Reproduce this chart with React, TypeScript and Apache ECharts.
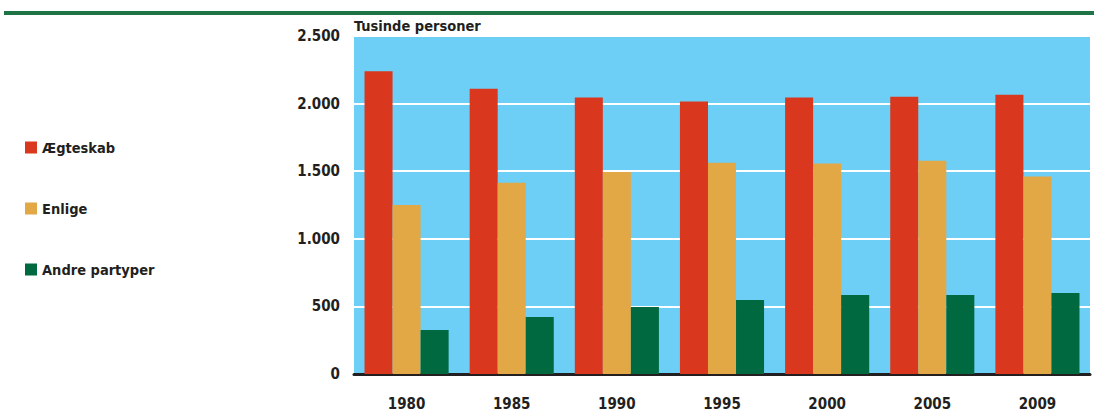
import React, { useEffect, useRef } from "react";
import * as echarts from "echarts";

const categories = ["1980", "1985", "1990", "1995", "2000", "2005", "2009"];
const aegteskab = [2240, 2110, 2045, 2015, 2045, 2050, 2065];
const enlige = [1250, 1415, 1495, 1563, 1557, 1578, 1460];
const andre = [326, 422, 496, 548, 585, 585, 600];
const seriesNames = ["Ægteskab", "Enlige", "Andre partyper"];
const colors = ["#d9381e", "#e3a846", "#006940"];

const FONT = "'DejaVu Sans Condensed', 'DejaVu Sans', sans-serif";

export default function App() {
  const ref = useRef<HTMLDivElement>(null);
  useEffect(() => {
    document.body.style.margin = "0";
    const chart = echarts.init(ref.current!, null, { renderer: "svg" });
    const data = [aegteskab, enlige, andre];
    chart.setOption({
      animation: false,
      textStyle: { fontFamily: FONT },
      title: {
        text: "Tusinde personer",
        left: 354,
        top: 18,
        padding: 0,
        textStyle: { fontFamily: FONT, fontSize: 14.5, fontWeight: "bold", color: "#231f20" },
      },
      graphic: [
        { type: "rect", shape: { x: 4, y: 11, width: 1090, height: 4 }, style: { fill: "#1f7446" } },
      ],
      legend: {
        orient: "vertical",
        left: 25,
        top: 140,
        padding: 0,
        itemWidth: 12,
        itemHeight: 12,
        itemGap: 46,
        icon: "rect",
        textStyle: { fontFamily: FONT, fontSize: 14.5, fontWeight: "bold", color: "#231f20" },
        data: seriesNames,
      },
      grid: {
        left: 354,
        right: 4,
        top: 36,
        bottom: 37,
        show: true,
        backgroundColor: "#6dcff6",
        borderWidth: 0,
      },
      xAxis: {
        type: "category",
        data: categories,
        axisTick: { show: false },
        axisLine: { show: true, lineStyle: { color: "#231f20", width: 3 } },
        axisLabel: { margin: 22, fontFamily: FONT, fontSize: 15, fontWeight: "bold", color: "#231f20" },
      },
      yAxis: {
        type: "value",
        min: 0,
        max: 2500,
        interval: 500,
        axisLine: { show: false },
        axisTick: { show: false },
        splitLine: { lineStyle: { color: "#ffffff", width: 2 } },
        axisLabel: {
          margin: 14,
          fontFamily: FONT,
          fontSize: 15,
          fontWeight: "bold",
          color: "#231f20",
          formatter: (v: number) => v.toLocaleString("da-DK").replace(/,/g, "."),
        },
      },
      series: seriesNames.map((name, i) => ({
        name,
        type: "bar",
        data: data[i],
        itemStyle: { color: colors[i] },
        barGap: "0%",
        barCategoryGap: "20%",
      })),
    });
    return () => chart.dispose();
  }, []);
  return <div ref={ref} style={{ width: 1094, height: 411 }} />;
}
